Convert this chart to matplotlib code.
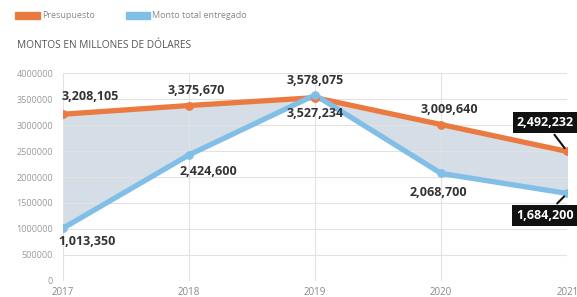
import numpy as np
import matplotlib.pyplot as plt
from matplotlib.patches import Rectangle

years = [2017, 2018, 2019, 2020, 2021]
presupuesto = [3208105, 3375670, 3527234, 3009640, 2492232]
entregado = [1013350, 2424600, 3578075, 2068700, 1684200]
ytick_vals = [0, 500000, 1000000, 1500000, 2000000, 2500000, 3000000, 3500000, 4000000]

orange = '#EB7A40'
blue = '#82BFE6'
txt = '#333333'

plt.rcParams['font.family'] = ['Open Sans', 'DejaVu Sans']

fig = plt.figure(figsize=(5.77, 2.97), dpi=100)
ax = fig.add_axes([0.109, 0.054, 0.874, 0.700])

ax.fill_between(years, presupuesto, entregado, color='#D5DDE6', zorder=1)
ax.plot(years, presupuesto, color=orange, lw=3.8, zorder=3, solid_capstyle='round')
ax.plot(years, entregado, color=blue, lw=3.8, zorder=3, solid_capstyle='round')
ax.scatter(years, presupuesto, color=orange, s=28, zorder=4)
ax.scatter(years, entregado, color=blue, s=28, zorder=4)

ax.set_xlim(2017, 2021)
ax.set_ylim(0, 4000000)
ax.set_xticks(years)
ax.set_xticklabels([str(y) for y in years], fontsize=7, color='#888888')
ax.set_yticks(ytick_vals)
ax.set_yticklabels([str(v) for v in ytick_vals], fontsize=6.5, color='#999999')
ax.tick_params(axis='y', length=0, pad=7)
ax.tick_params(axis='x', length=0, pad=4)
ax.grid(True, color='#E2E2E2', lw=0.8, zorder=0)
for s in ax.spines.values():
    s.set_visible(False)

def fmt(v):
    return f'{v:,}'

lab = dict(fontsize=9, fontweight='bold', color=txt, zorder=6, textcoords='offset points')
# presupuesto labels
ax.annotate(fmt(presupuesto[0]), (years[0], presupuesto[0]), xytext=(-1, 8), ha='left', va='bottom', **lab)
ax.annotate(fmt(presupuesto[1]), (years[1], presupuesto[1]), xytext=(5, 6), ha='center', va='bottom', **lab)
ax.annotate(fmt(presupuesto[2]), (years[2], presupuesto[2]), xytext=(0, -7), ha='center', va='top', **lab)
ax.annotate(fmt(presupuesto[3]), (years[3], presupuesto[3]), xytext=(6, 6), ha='center', va='bottom', **lab)
# entregado labels
ax.annotate(fmt(entregado[0]), (years[0], entregado[0]), xytext=(-3, -5), ha='left', va='top', **lab)
ax.annotate(fmt(entregado[1]), (years[1], entregado[1]), xytext=(14, -7), ha='center', va='top', **lab)
ax.annotate(fmt(entregado[2]), (years[2], entregado[2]), xytext=(0, 6), ha='center', va='bottom', **lab)
ax.annotate(fmt(entregado[3]), (years[3], entregado[3]), xytext=(-2, -9), ha='center', va='top', **lab)
# 2021 boxed labels
box = dict(boxstyle='square,pad=0.3', fc='#111111', ec='none')
ax.annotate(fmt(presupuesto[4]), (years[4], presupuesto[4]), xytext=(-16, 21), textcoords='offset points',
            ha='center', va='center', fontsize=9, fontweight='bold', color='white', bbox=box, zorder=7,
            arrowprops=dict(arrowstyle='-', color='#111111', lw=1.5, shrinkB=3), annotation_clip=False)
ax.annotate(fmt(entregado[4]), (years[4], entregado[4]), xytext=(-16, -16), textcoords='offset points',
            ha='center', va='center', fontsize=9, fontweight='bold', color='white', bbox=box, zorder=7,
            arrowprops=dict(arrowstyle='-', color='#111111', lw=1.5, shrinkB=3), annotation_clip=False)

# legend + subtitle
fig.patches.append(Rectangle((15 / 577, 1 - 19 / 297), 25 / 577, 7 / 297, transform=fig.transFigure, color=orange))
fig.text(42 / 577, 1 - 15.5 / 297, 'Presupuesto', fontsize=6.5, color='#888888', va='center')
fig.patches.append(Rectangle((126 / 577, 1 - 19 / 297), 24 / 577, 7 / 297, transform=fig.transFigure, color=blue))
fig.text(152 / 577, 1 - 15.5 / 297, 'Monto total entregado', fontsize=6.5, color='#888888', va='center')
fig.text(17 / 577, 1 - 46 / 297, 'MONTOS EN MILLONES DE DÓLARES', fontsize=7.3, color='#555555', va='center')

fig.savefig('out.png', dpi=100)
